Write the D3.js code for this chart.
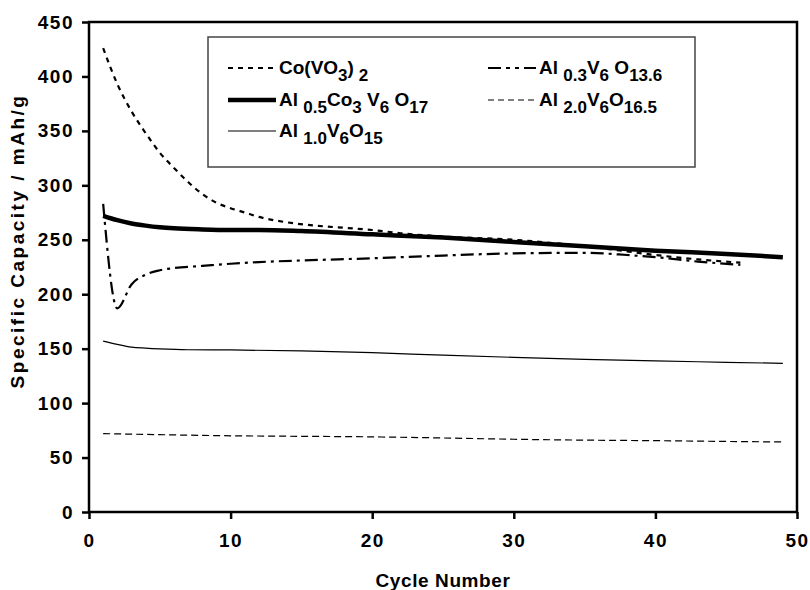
<!DOCTYPE html>
<html><head><meta charset="utf-8">
<script src="https://cdn.jsdelivr.net/npm/d3@7"></script>
<style>body{margin:0;background:#fff}svg{display:block}text{font-family:"Liberation Sans",Arial,sans-serif;font-weight:bold;fill:#000}</style>
</head><body><svg id="c" width="810" height="590"></svg>
<script>
const xTicks=[0,10,20,30,40,50];
const yTicks=[0,50,100,150,200,250,300,350,400,450];

const coCycles=[1,2,3,4,5,6,7,8,9,10,11,12,14,16,18,20,22,25,30,35,37,40,43,46];
const coVals=[426,393,368,348,330,316,303,292,284,279,275,271,266,263,261,259,256,253,250,244,241,236,232,229];

const al03Cycles=[1,2,3,4,5,6,8,10,12,15,20,25,30,35,38,40,43,46];
const al03Vals=[283,187,209,218,222,224,226,228,229.5,231,233,235.5,237.5,238,236,234,230,227];

const al05Cycles=[1,2,3,4,5,6,8,10,12,15,20,25,30,35,40,45,49];
const al05Vals=[272,268,265,263,261.5,260.5,259.5,259,259,258,255,252,248,244,240,237,234];

const al10Cycles=[1,2,3,4,5,7,10,15,20,25,30,35,40,45,49];
const al10Vals=[157,154,151.5,150.5,149.8,149,148.8,148,146.3,144,142,140.2,138.7,137.5,136.5];

const al20Cycles=[1,5,10,15,20,25,30,35,40,45,49];
const al20Vals=[72,71,70,69.5,69,68,66.8,66,65.5,64.8,64.3];

const svg=d3.select("#c");
const L=89,R=797,T=22,B=512;
const x=d3.scaleLinear().domain([0,50]).range([L,R]);
const y=d3.scaleLinear().domain([0,450]).range([B,T]);

// axes
const xa=svg.append("g").attr("transform",`translate(0,${B})`).call(d3.axisBottom(x).tickValues(xTicks).tickSize(7).tickPadding(15));
const ya=svg.append("g").attr("transform",`translate(${L},0)`).call(d3.axisLeft(y).tickValues(yTicks).tickSize(7).tickPadding(8));
[xa,ya].forEach(a=>{a.select(".domain").remove();a.selectAll("line").attr("stroke","#000").attr("stroke-width",2.5);
 a.selectAll("text").style("font-size","19px").style("letter-spacing","1.5px").style("font-family","Liberation Sans, Arial, sans-serif").style("font-weight","bold");});
// frame
svg.append("rect").attr("x",L).attr("y",T).attr("width",R-L).attr("height",B-T).attr("fill","none").attr("stroke","#000").attr("stroke-width",2.5);

svg.append("text").attr("x",443).attr("y",587).attr("text-anchor","middle").style("font-size","19px").style("letter-spacing","0.6px").text("Cycle Number");
svg.append("text").attr("transform","translate(24,241) rotate(-90)").attr("text-anchor","middle").style("font-size","19px").style("letter-spacing","2.5px").text("Specific Capacity / mAh/g");

const series=[
 {c:coCycles,v:coVals,w:2.2,d:"5,5"},
 {c:al03Cycles,v:al03Vals,w:2.2,d:"13,5,3,5"},
 {c:al05Cycles,v:al05Vals,w:4.5,d:null},
 {c:al10Cycles,v:al10Vals,w:1.2,d:null},
 {c:al20Cycles,v:al20Vals,w:1.2,d:"7,4"}
];
const line=d3.line().x(d=>x(d[0])).y(d=>y(d[1])).curve(d3.curveMonotoneX);
series.forEach(s=>{
 svg.append("path").datum(s.c.map((c,i)=>[c,s.v[i]])).attr("d",line).attr("fill","none").attr("stroke","#000")
  .attr("stroke-width",s.w).attr("stroke-dasharray",s.d);
});

// legend
svg.append("rect").attr("x",208).attr("y",37).attr("width",487).attr("height",130).attr("fill","#fff").attr("stroke","#444").attr("stroke-width",1.5);
const leg=[
 {x:228,y:68,w:2.2,d:"5,5",parts:[["Co(VO",0],["3",1],[")",0],[" 2",1]]},
 {x:488,y:68,w:2.2,d:"13,5,4,5,4,5",parts:[["Al ",0],["0.3",1],["V",0],["6",1],[" O",0],["13.6",1]]},
 {x:228,y:100,w:4.5,d:null,parts:[["Al ",0],["0.5",1],["Co",0],["3",1],[" V",0],["6",1],[" O",0],["17",1]]},
 {x:488,y:100,w:1.2,d:"6,4",parts:[["Al ",0],["2.0",1],["V",0],["6",1],["O",0],["16.5",1]]},
 {x:228,y:131,w:1.2,d:null,parts:[["Al ",0],["1.0",1],["V",0],["6",1],["O",0],["15",1]]}
];
leg.forEach(g=>{
 svg.append("line").attr("x1",g.x).attr("x2",g.x+48).attr("y1",g.y).attr("y2",g.y).attr("stroke","#000").attr("stroke-width",g.w).attr("stroke-dasharray",g.d);
 const t=svg.append("text").attr("x",g.x+51).attr("y",g.y+6).style("font-size","19px");
 let prev=0;
 g.parts.forEach(p=>{
  const dy=(p[1]-prev)*7; prev=p[1];
  t.append("tspan").attr("dy",dy).style("font-size",p[1]?"17px":"19px").text(p[0]);
 });
});
</script></body></html>
